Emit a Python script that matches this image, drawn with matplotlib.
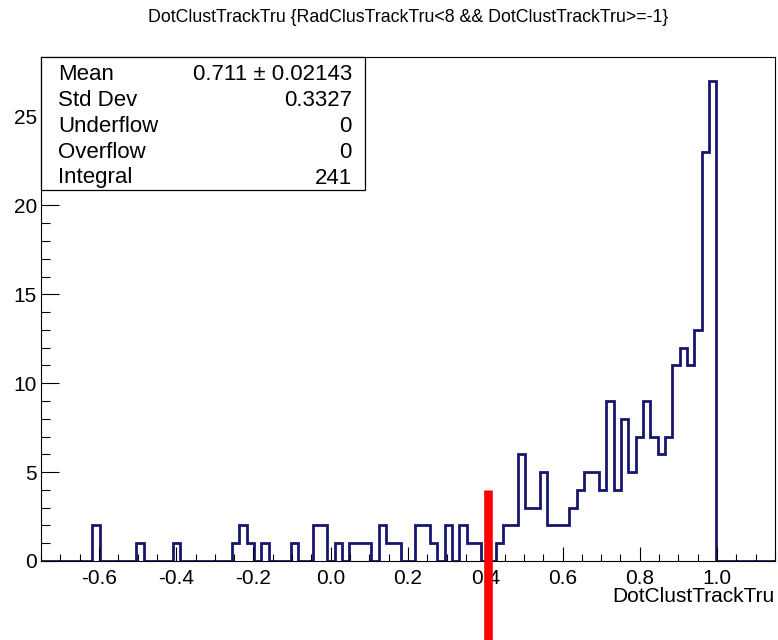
import numpy as np
import matplotlib
matplotlib.use("Agg")
import matplotlib.pyplot as plt
from matplotlib.ticker import MultipleLocator, FormatStrFormatter

plt.rcParams['font.family'] = ['Liberation Sans', 'DejaVu Sans']

# histogram definition: 100 bins between x_low and x_high
x_low, x_high, n_bins = -0.75, 1.15, 100
counts = [
    0, 0, 0, 0, 0, 0, 0, 2, 0, 0,
    0, 0, 0, 1, 0, 0, 0, 0, 1, 0,
    0, 0, 0, 0, 0, 0, 1, 2, 1, 0,
    1, 0, 0, 0, 1, 0, 0, 2, 2, 0,
    1, 0, 1, 1, 1, 0, 2, 1, 1, 0,
    0, 2, 2, 1, 0, 2, 0, 2, 1, 1,
    0, 0, 1, 2, 2, 6, 3, 3, 5, 2,
    2, 2, 3, 4, 5, 5, 4, 9, 4, 8,
    5, 7, 9, 7, 6, 7, 11, 12, 11, 13,
    23, 27, 0, 0, 0, 0, 0, 0, 0, 0,
]

title = "DotClustTrackTru {RadClusTrackTru<8 && DotClustTrackTru>=-1}"
x_title = "DotClustTrackTru"
stat_names = ["Mean", "Std Dev", "Underflow", "Overflow", "Integral"]
stat_values = ["0.711 \u00b1 0.02143", "0.3327", "0", "0", "241"]

# cut marker drawn on top of the histogram
cut_x, cut_top = 0.408, 4.0

W, H = 778, 640
fig = plt.figure(figsize=(W / 100, H / 100), dpi=100)
ax = fig.add_axes([41 / W, 1 - 561 / H, (775 - 41) / W, (561 - 57) / H])

edges = np.linspace(x_low, x_high, n_bins + 1)
ax.stairs(counts, edges, color="#16166e", lw=2.0, baseline=0)

ax.set_xlim(x_low, x_high)
ax.set_ylim(0, 1.05 * max(counts))

ax.xaxis.set_major_locator(MultipleLocator(0.2))
ax.xaxis.set_minor_locator(MultipleLocator(0.05))
ax.xaxis.set_major_formatter(FormatStrFormatter("%.1f"))
ax.yaxis.set_major_locator(MultipleLocator(5))
ax.yaxis.set_minor_locator(MultipleLocator(1))
ax.tick_params(axis="x", which="major", direction="in", length=10, width=0.8,
               labelsize=15, pad=6)
ax.tick_params(axis="x", which="minor", direction="in", length=5, width=0.8)
ax.tick_params(axis="y", which="major", direction="in", length=13, width=0.8,
               labelsize=15, pad=3)
ax.tick_params(axis="y", which="minor", direction="in", length=6.5, width=0.8)
for s in ax.spines.values():
    s.set_linewidth(0.8)

fig.text(408 / W, 1 - 17 / H, title, ha="center", va="center", fontsize=12.8)
fig.text(775 / W, 1 - 597 / H, x_title, ha="right", va="center", fontsize=15)

# statistics box in the upper left corner
bx0, bx1, by0, by1 = 41, 365, 57, 190
box = plt.Rectangle((bx0 / W, 1 - by1 / H), (bx1 - bx0) / W, (by1 - by0) / H,
                    transform=fig.transFigure, fill=True, facecolor="white",
                    edgecolor="black", lw=0.9, zorder=5)
fig.add_artist(box)
row_y = [75, 101, 127, 153, 178]
for name, val, yy in zip(stat_names, stat_values, row_y):
    fig.text(58 / W, 1 - yy / H, name, ha="left", va="center", fontsize=16, zorder=6)
    fig.text(352 / W, 1 - yy / H, val, ha="right", va="center", fontsize=16, zorder=6)

ax.vlines(cut_x, -5, cut_top, colors="red", lw=6.2, clip_on=False, zorder=10)

fig.savefig("out.png", dpi=100)
